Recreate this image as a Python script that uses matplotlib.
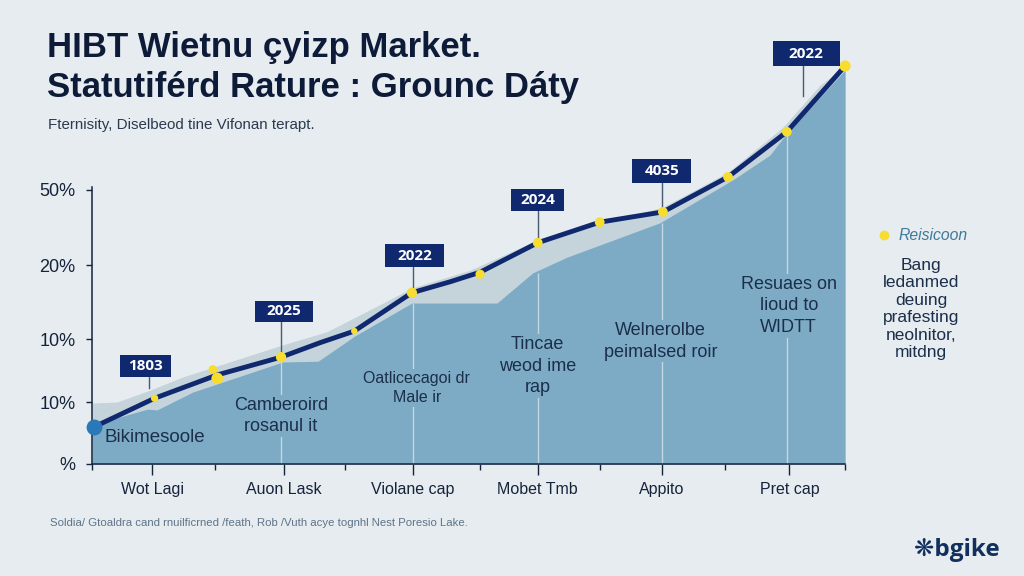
import matplotlib
matplotlib.use("Agg")
import matplotlib.pyplot as plt
from matplotlib.patches import Rectangle

# data
line_x = [0.03, 1.0, 2.0, 3.02, 3.64, 4.19, 5.11, 5.72, 6.2, 7.12, 8.11, 9.12, 10.16, 11.1, 12.03]
line_y = [5.4, 9.6, 13.0, 15.6, 17.7, 19.4, 25.0, 26.6, 28.0, 32.3, 35.3, 36.8, 41.9, 48.5, 58.1]
area_x = [0, 0.88, 1.04, 1.61, 3.05, 3.61, 4.2, 5.11, 6.47, 7.04, 7.59, 9.07, 10.24, 10.83, 11.1, 12.03]
area_y = [5.7, 8.0, 7.9, 10.5, 14.9, 15.0, 18.7, 23.5, 23.5, 27.9, 30.2, 35.2, 41.5, 45.1, 48.3, 57.5]
band_x = [0, 0.4, 0.93, 1.45, 3.05, 3.75, 4.65, 5.11, 6.04, 7.12, 9.12, 10.16, 11.04, 11.63, 12.03]
band_y = [8.9, 9.05, 10.8, 12.7, 17.4, 19.3, 23.5, 25.7, 28.3, 32.7, 37.5, 42.6, 49.2, 55.3, 58.1]
dot_x = [1.0, 1.93, 2.0, 3.02, 4.19, 5.11, 6.2, 7.12, 8.11, 9.12, 10.16, 11.1, 12.03]
dot_y = [9.6, 13.8, 12.5, 15.6, 19.4, 25.0, 27.7, 32.3, 35.3, 36.8, 41.9, 48.5, 58.1]

ytick_pos = [0, 9.05, 18.2, 29.05, 40]
ytick_labels = ["%", "10%", "10%", "20%", "50%"]
xtick_pos = [0.96, 3.06, 5.13, 7.12, 9.1, 11.14]
xtick_labels = ["Wot Lagi", "Auon Lask", "Violane cap", "Mobet Tmb", "Appito", "Pret cap"]
xminor_pos = [0, 1.96, 4.04, 6.2, 8.11, 10.11, 12.03]

box_x = [0.855, 3.07, 5.15, 7.12, 9.1, 11.41]
box_y = [14.3, 22.3, 30.4, 38.5, 42.8, 59.9]
box_labels = ["1803", "2025", "2022", "2024", "4035", "2022"]
stem_x = [0.91, 3.02, 5.13, 7.12, 9.1, 11.36]
stem_end = [11.1, 15.6, 25.0, 32.3, 36.8, 53.7]

inner_x = [3.02, 5.13, 7.12, 9.1, 11.1]
inner_top = [15.0, 23.5, 27.9, 35.2, 48.3]

note_x = [1.0, 3.02, 5.19, 7.12, 9.08, 11.13]
note_y = [3.9, 7.0, 11.1, 14.3, 17.9, 23.1]
note_labels = ["Bikimesoole", "Camberoird\nrosanul it", "Oatlicecagoi dr\nMale ir",
               "Tincae\nweod ime\nrap", "Welnerolbe\npeimalsed roir", "Resuaes on\nlioud to\nWIDTT"]

BG = "#e6ecef"
AREA = "#7dabc5"
BAND = "#c5d4db"
NAVY = "#10296e"
INK = "#16233c"
FONT = "Liberation Sans"

W, H = 1024, 576
fig = plt.figure(figsize=(W / 100, H / 100), dpi=100, facecolor=BG)

# axes box in pixels: 92..870 across, baseline at 464, top at 40
ax = fig.add_axes([92 / W, 1 - 464 / H, 778 / W, 424 / H])
ax.set_facecolor("none")
ax.set_xlim(0, 778 / 62.6)
ax.set_ylim(0, 424 / 6.85)

ax.fill_between(band_x, band_y, 0, color=BAND, lw=0, zorder=1)
ax.fill_between(area_x, area_y, 0, color=AREA, lw=0, zorder=2)
ax.vlines(inner_x, 0, inner_top, color="#c4d8e3", lw=1, zorder=2.5)

ax.plot(line_x, line_y, color=NAVY, lw=3.5, solid_joinstyle="round", zorder=4)
dot_size = [28, 38, 70, 55, 22, 55, 45, 50, 50, 50, 50, 50, 65]
ax.scatter(dot_x, dot_y, s=dot_size, color="#f6dd2f", lw=0, zorder=5)
ax.scatter(line_x[0], line_y[0], s=130, color="#2a78b8", lw=0, zorder=6, clip_on=False)

# value boxes with their stems
box_w = [0.81, 0.93, 0.94, 0.85, 0.94, 1.07]
box_h = [3.2, 3.1, 3.4, 3.2, 3.5, 3.65]
for i, lab in enumerate(box_labels):
    bx, by = box_x[i], box_y[i]
    ax.plot([stem_x[i], stem_x[i]], [by, stem_end[i]], color="#4a5a70", lw=1, zorder=3)
    ax.add_patch(Rectangle((bx - box_w[i] / 2, by - box_h[i] / 2), box_w[i], box_h[i],
                           fc=NAVY, ec="none", zorder=7))
    ax.text(bx, by, lab, ha="center", va="center", color="white", fontsize=11,
            fontweight="bold", family="Open Sans", zorder=8)

note_size = [13.5, 13, 11.5, 13, 13, 13]
for nx, ny, lab, fs in zip(note_x, note_y, note_labels, note_size):
    ax.text(nx, ny, lab, ha="center", va="center", ma="center", color="#1b2e4a", fontsize=fs,
            family=FONT, linespacing=1.35, zorder=3,
            bbox=dict(boxstyle="square,pad=0.1", fc=AREA, ec="none"))

for s in ["top", "right"]:
    ax.spines[s].set_visible(False)
ax.spines["left"].set_bounds(0, 40.4)
ax.spines["left"].set_color(INK)
ax.spines["bottom"].set_bounds(0, 12.03)
ax.spines["bottom"].set_color(INK)
ax.spines["left"].set_linewidth(1.1)
ax.spines["bottom"].set_linewidth(1.1)

ax.set_yticks(ytick_pos)
ax.set_yticklabels(ytick_labels, fontsize=13, family=FONT, color=INK)
ax.tick_params(axis="y", length=4, width=1, color=INK, pad=8)
ax.set_xticks(xtick_pos)
ax.set_xticklabels(xtick_labels, fontsize=11.5, family=FONT, color=INK)
ax.set_xticks(xminor_pos, minor=True)
ax.tick_params(axis="x", which="major", length=8, width=1, color=INK, pad=5)
ax.tick_params(axis="x", which="minor", length=4, width=1, color=INK)

# heading
fig.text(47 / W, 1 - 47 / H, "HIBT Wietnu çyizp Market.", fontsize=25, fontweight="bold",
         family=FONT, color="#0d1b38", va="center")
fig.text(47 / W, 1 - 88 / H, "Statutiférd Rature : Grounc Dáty", fontsize=25, fontweight="bold",
         family=FONT, color="#0d1b38", va="center")
fig.text(48 / W, 1 - 125 / H, "Fternisity, Diselbeod tine Vifonan terapt.", fontsize=10.9,
         family=FONT, color="#2b3a50", va="center")

# side note
dot_ax = fig.add_axes([0, 0, 1, 1], facecolor="none")
dot_ax.set_xlim(0, W)
dot_ax.set_ylim(H, 0)
dot_ax.axis("off")
dot_ax.scatter([884], [235], s=50, color="#f6dd2f", lw=0)
fig.text(899 / W, 1 - 236 / H, "Reisicoon", fontsize=11.3, style="italic", family=FONT,
         color="#3f7a9a", va="center")
fig.text(921 / W, 1 - 309 / H, "Bang\nledanmed\ndeuing\nprafesting\nneolnitor,\nmitdng",
         fontsize=12.5, family=FONT, color="#1b2e4a", ha="center", va="center", ma="center",
         linespacing=1.2)

# footer
fig.text(50 / W, 1 - 523 / H,
         "Soldia/ Gtoaldra cand rnuilficrned /feath, Rob /Vuth acye tognhl Nest Poresio Lake.",
         fontsize=8.2, family=FONT, color="#5f7389", va="center")
fig.text(1000 / W, 1 - 550 / H, "❋bgike", fontsize=17.5, fontweight="bold",
         family=["Open Sans", "DejaVu Sans"], color="#12305e", ha="right", va="center")

fig.savefig("out.png", dpi=100, facecolor=BG)
